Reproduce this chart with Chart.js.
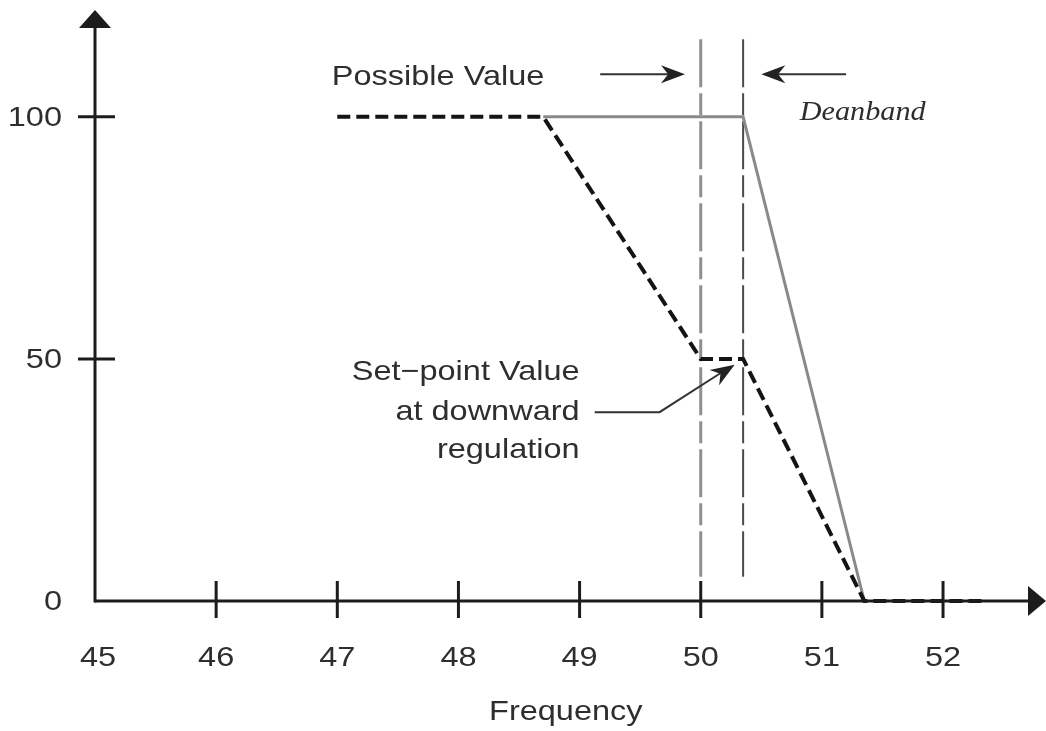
<!DOCTYPE html>
<html><head><meta charset="utf-8">
<script src="https://cdn.jsdelivr.net/npm/chart.js@4.4.0/dist/chart.umd.min.js"></script>
<style>html,body{margin:0;padding:0;background:#fff;} canvas{display:block;}</style>
</head><body>
<canvas id="c" width="1046" height="731"></canvas>
<script>
// ---- data ----
const xTicks = [45, 46, 47, 48, 49, 50, 51, 52];
const yTicks = [0, 50, 100];
const possibleX = [48.7, 50.35, 51.35];
const possibleY = [100, 100, 0];
const setpointX = [47, 48.7, 50.0, 50.35, 51.35, 52.35];
const setpointY = [100, 100, 50, 50, 0, 0];
const deadbandLowX = [50, 50];
const deadbandHighX = [50.35, 50.35];
const deadbandY = [116, 5];
const xLabel = 'Frequency';
const possibleLabel = 'Possible Value';
const deadbandLabel = 'Deanband';
const setpointLabel = ['Set\u2212point Value', 'at downward', 'regulation'];

const F = '"Liberation Sans", Arial, sans-serif';
const FS = 28;
const SX = 1.16;
const TXT = '#2e2e2e';

function pts(xs, ys) { return xs.map((x, i) => ({ x: x, y: ys[i] })); }

function arrowHead(ctx, tx, ty, ang, len, half) {
  ctx.save();
  ctx.translate(tx, ty);
  ctx.rotate(ang);
  ctx.beginPath();
  ctx.moveTo(0, 0);
  ctx.lineTo(-len, -half);
  ctx.lineTo(-len * 0.7, 0);
  ctx.lineTo(-len, half);
  ctx.closePath();
  ctx.fill();
  ctx.restore();
}

function text(ctx, t, x, y, align, base, sx) {
  ctx.save();
  ctx.translate(x, y);
  ctx.scale(sx, 1);
  ctx.textAlign = align;
  ctx.textBaseline = base;
  ctx.fillText(t, 0, 0);
  ctx.restore();
}

const decor = {
  id: 'decor',
  beforeDraw(chart) {
    const ctx = chart.ctx;
    ctx.save();
    ctx.fillStyle = '#fff';
    ctx.fillRect(0, 0, chart.width, chart.height);
    ctx.restore();
  },
  afterDraw(chart) {
    const ctx = chart.ctx;
    const xs = chart.scales.x, ys = chart.scales.y;
    const px = v => xs.getPixelForValue(v);
    const py = v => ys.getPixelForValue(v);
    const x0 = px(45), y0 = py(0);
    ctx.save();
    ctx.strokeStyle = '#1c1c1c';
    ctx.fillStyle = '#1c1c1c';
    ctx.lineWidth = 3;
    ctx.lineCap = 'butt';
    // y axis
    ctx.beginPath();
    ctx.moveTo(x0, y0 + 1.5);
    ctx.lineTo(x0, 26);
    ctx.stroke();
    ctx.beginPath();
    ctx.moveTo(x0, 10); ctx.lineTo(x0 - 16, 28); ctx.lineTo(x0 + 16, 28); ctx.closePath(); ctx.fill();
    // x axis
    ctx.beginPath();
    ctx.moveTo(x0, y0);
    ctx.lineTo(1030, y0);
    ctx.stroke();
    ctx.beginPath();
    ctx.moveTo(1046, y0); ctx.lineTo(1028, y0 - 15); ctx.lineTo(1028, y0 + 15); ctx.closePath(); ctx.fill();
    // ticks (crossing the axes)
    xTicks.forEach(v => {
      if (v === 45) return;
      const x = px(v);
      ctx.beginPath(); ctx.moveTo(x, y0 - 20); ctx.lineTo(x, y0 + 17); ctx.stroke();
    });
    yTicks.forEach(v => {
      if (v === 0) return;
      const y = py(v);
      ctx.beginPath(); ctx.moveTo(x0 - 17, y); ctx.lineTo(x0 + 20, y); ctx.stroke();
    });
    // tick labels
    ctx.fillStyle = TXT;
    ctx.font = FS + 'px ' + F;
    xTicks.forEach(v => text(ctx, String(v), px(v) + (v === 45 ? 3 : 0), y0 + 65, 'center', 'alphabetic', SX));
    yTicks.forEach(v => text(ctx, String(v), x0 - 33, py(v) + 1, 'right', 'middle', SX));
    // axis title
    text(ctx, xLabel, px(48.886), py(-24.6), 'center', 'alphabetic', SX);
    // top arrows
    ctx.strokeStyle = '#333'; ctx.fillStyle = '#222'; ctx.lineWidth = 2;
    const ay = py(108.8);
    ctx.beginPath(); ctx.moveTo(px(49.17), ay); ctx.lineTo(px(49.80), ay); ctx.stroke();
    arrowHead(ctx, px(49.87), ay, 0, 24, 9);
    ctx.beginPath(); ctx.moveTo(px(51.20), ay); ctx.lineTo(px(50.57), ay); ctx.stroke();
    arrowHead(ctx, px(50.50), ay, Math.PI, 24, 9);
    // leader arrow for set-point
    const lx1 = px(49.125), lx2 = px(49.66), ly = py(39.0);
    const tx = px(50.28), ty = py(48.8);
    ctx.beginPath(); ctx.moveTo(lx1, ly); ctx.lineTo(lx2, ly); ctx.lineTo(tx - 12, ty + 7); ctx.stroke();
    arrowHead(ctx, tx, ty, Math.atan2(ty - ly, tx - lx2), 24, 9);
    // annotation texts
    ctx.fillStyle = TXT;
    ctx.font = FS + 'px ' + F;
    text(ctx, possibleLabel, px(46.955), py(106.6), 'left', 'alphabetic', SX);
    const sy = [45.64, 37.38, 29.53];
    setpointLabel.forEach((t, i) => text(ctx, t, px(49.0), py(sy[i]), 'right', 'alphabetic', SX));
    ctx.font = 'italic 27px "Liberation Serif", "Times New Roman", serif';
    text(ctx, deadbandLabel, px(50.817), py(99.34), 'left', 'alphabetic', 1.12);
    ctx.restore();
  }
};

new Chart(document.getElementById('c'), {
  type: 'line',
  data: {
    datasets: [
      { data: pts(setpointX, setpointY), borderColor: '#141414', borderWidth: 4, borderDash: [13, 6], pointRadius: 0, tension: 0, fill: false, clip: false },
      { data: pts(possibleX, possibleY), borderColor: '#8a8a8a', borderWidth: 3, pointRadius: 0, tension: 0, fill: false, clip: false },
      { data: pts(deadbandLowX, deadbandY), borderColor: '#8f8f8f', borderWidth: 3, borderDash: [48, 6, 22, 6], pointRadius: 0, fill: false, clip: false },
      { data: pts(deadbandHighX, deadbandY), borderColor: '#4a4a4a', borderWidth: 2, borderDash: [48, 6, 22, 6], pointRadius: 0, fill: false, clip: false }
    ]
  },
  options: {
    responsive: false,
    animation: false,
    devicePixelRatio: 1,
    layout: { padding: { top: 20, left: 0, right: 0, bottom: 0 } },
    plugins: { legend: { display: false }, tooltip: { enabled: false } },
    scales: {
      x: {
        type: 'linear', min: 45, max: 52.85,
        afterBuildTicks: s => { s.ticks = xTicks.map(v => ({ value: v })); },
        afterFit: s => { s.height = 130; },
        grid: { display: false, drawTicks: false },
        border: { display: false },
        ticks: { display: false }
      },
      y: {
        type: 'linear', min: 0, max: 120,
        afterBuildTicks: s => { s.ticks = yTicks.map(v => ({ value: v })); },
        afterFit: s => { s.width = 95; },
        grid: { display: false, drawTicks: false },
        border: { display: false },
        ticks: { display: false }
      }
    }
  },
  plugins: [decor]
});
</script>
</body></html>
